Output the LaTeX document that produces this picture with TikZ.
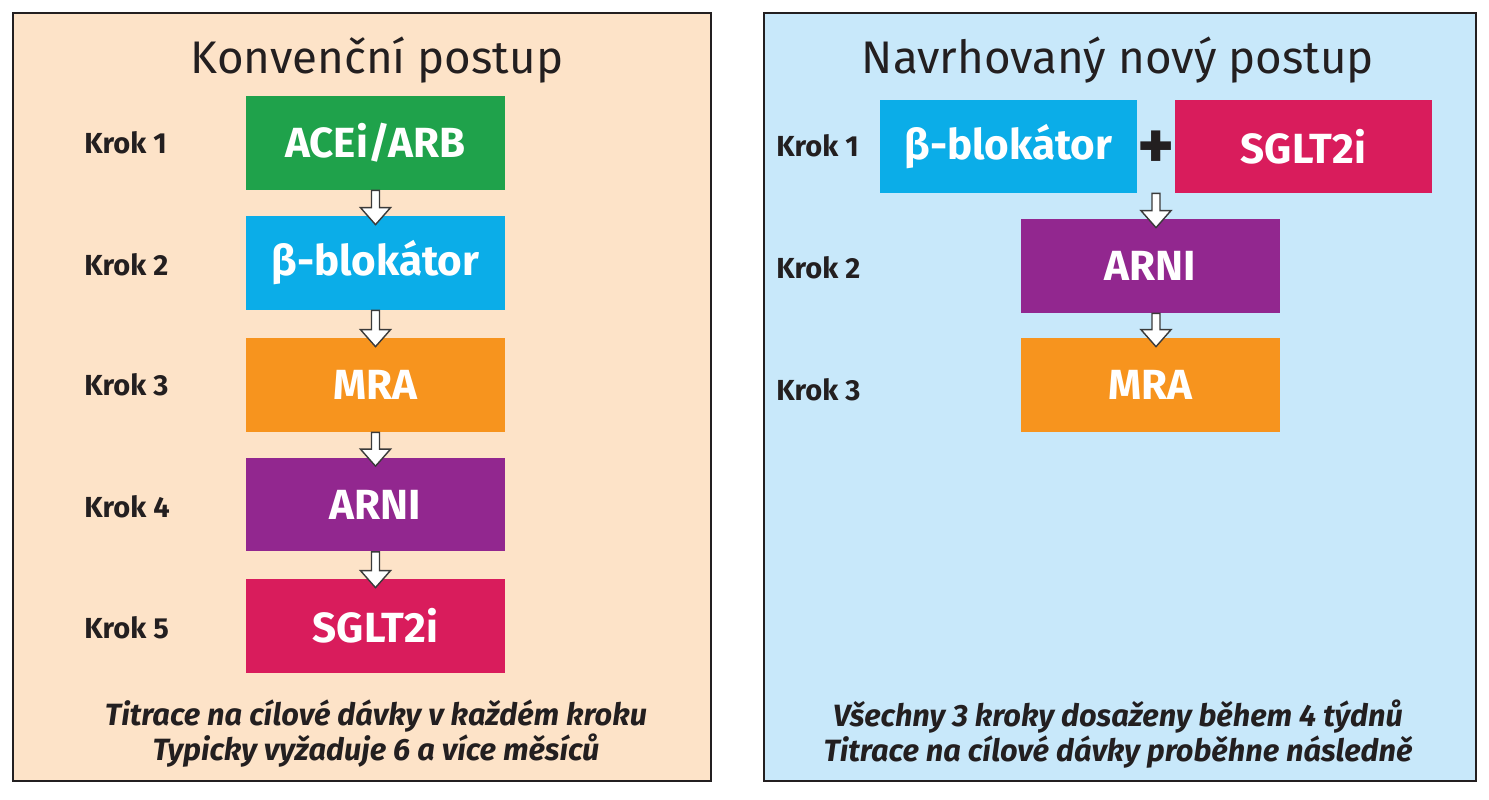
\documentclass[tikz,border=0pt]{standalone}
\usepackage{fontspec}
\setmainfont{Fira Sans}
\usetikzlibrary{positioning,calc}

\definecolor{peach}{HTML}{FDE3C8}
\definecolor{skyback}{HTML}{C8E8FA}
\definecolor{panelline}{HTML}{231F20}
\definecolor{textdark}{HTML}{231F20}
\definecolor{arrowline}{HTML}{3A3A3A}
\definecolor{aceigreen}{HTML}{1FA24B}
\definecolor{betablue}{HTML}{0BADE8}
\definecolor{mraorange}{HTML}{F7941E}
\definecolor{arnipurple}{HTML}{92278F}
\definecolor{sgltred}{HTML}{D91C5C}

% hollow down arrow from #1 (bottom of upper box) to #2 (top of lower box)
\newcommand{\flowArrow}[2]{%
  \draw[flow] ($(#1)+(-4,0)$) -- ($(#2)+(-4,-8)$) -- ($(#2)+(-15,-8)$)
    -- ($(#2)+(0,9)$) -- ($(#2)+(15,-8)$) -- ($(#2)+(4,-8)$)
    -- ($(#1)+(4,0)$) -- cycle;}

\begin{document}
\begin{tikzpicture}[x=0.02cm, y=-0.02cm,
    panel/.style={draw=panelline, line width=1.6pt},
    drug/.style={minimum width=5.18cm, minimum height=1.88cm, inner sep=0pt,
      text=white, font=\bfseries\fontsize{24}{24}\selectfont},
    krok/.style={anchor=west, inner sep=0pt, text=textdark, font=\bfseries\fontsize{16.5}{16.5}\selectfont},
    heading/.style={text=textdark, font=\fontsize{26}{26}\selectfont},
    note/.style={align=center, text=textdark, font=\bfseries\itshape\fontsize{17.5}{20}\selectfont},
    flow/.style={draw=arrowline, fill=white, line width=0.8pt, line join=miter}
]
\useasboundingbox (0,0) rectangle (1489,800);

% panels
\filldraw[panel, fill=peach] (13,13) rectangle (711,781);
\filldraw[panel, fill=skyback] (764,13) rectangle (1476,781);

\node[heading] (convTitle) at (377,60) {Konvenční postup};
\node[heading] (newTitle) at (1118,60) {Navrhovaný nový postup};

% conventional
\node[drug, fill=aceigreen] (acei) at (375.5,143) {ACEi/ARB};
\node[drug, fill=betablue] (beta) at (375.5,263) {β-blokátor};
\node[drug, fill=mraorange] (mra) at (375.5,385) {MRA};
\node[drug, fill=arnipurple] (arni) at (375.5,504.5) {ARNI};
\node[drug, fill=sgltred] (sglt) at (375.5,626) {SGLT2i};

\node[krok] (k1) at (84,143) {Krok 1};
\node[krok] (k2) at (84,265) {Krok 2};
\node[krok] (k3) at (84,385) {Krok 3};
\node[krok] (k4) at (84,507) {Krok 4};
\node[krok] (k5) at (84,628) {Krok 5};

\flowArrow{acei.south}{beta.north}
\flowArrow{beta.south}{mra.north}
\flowArrow{mra.south}{arni.north}
\flowArrow{arni.south}{sglt.north}

\node[note] (convNote) at (376,734) {Titrace na cílové dávky v každém kroku\\Typicky vyžaduje 6 a více měsíců};

% proposed
\node[drug, fill=betablue, minimum width=5.14cm, minimum height=1.86cm] (betaR) at (1008.5,146.5) {β-blokátor};
\node[drug, fill=sgltred, minimum width=5.14cm, minimum height=1.86cm] (sgltR) at (1303.5,146.5) {SGLT2i};
\node[text=textdark, font=\bfseries\fontsize{40}{40}\selectfont] (plus) at (1156,150) {+};
\node[drug, fill=arnipurple] (arniR) at (1150.5,266) {ARNI};
\node[drug, fill=mraorange] (mraR) at (1150.5,385) {MRA};

\node[krok] (r1) at (776,146) {Krok 1};
\node[krok] (r2) at (776,268) {Krok 2};
\node[krok] (r3) at (776,390) {Krok 3};

\coordinate (join) at (plus.center |- betaR.south);
\coordinate (arniTop) at (join |- arniR.north);
\coordinate (arniBot) at (join |- arniR.south);
\coordinate (mraTop) at (join |- mraR.north);
\flowArrow{join}{arniTop}
\flowArrow{arniBot}{mraTop}

\node[note] (newNote) at (1118,734) {Všechny 3 kroky dosaženy během 4 týdnů\\Titrace na cílové dávky proběhne následně};
\end{tikzpicture}
\end{document}
